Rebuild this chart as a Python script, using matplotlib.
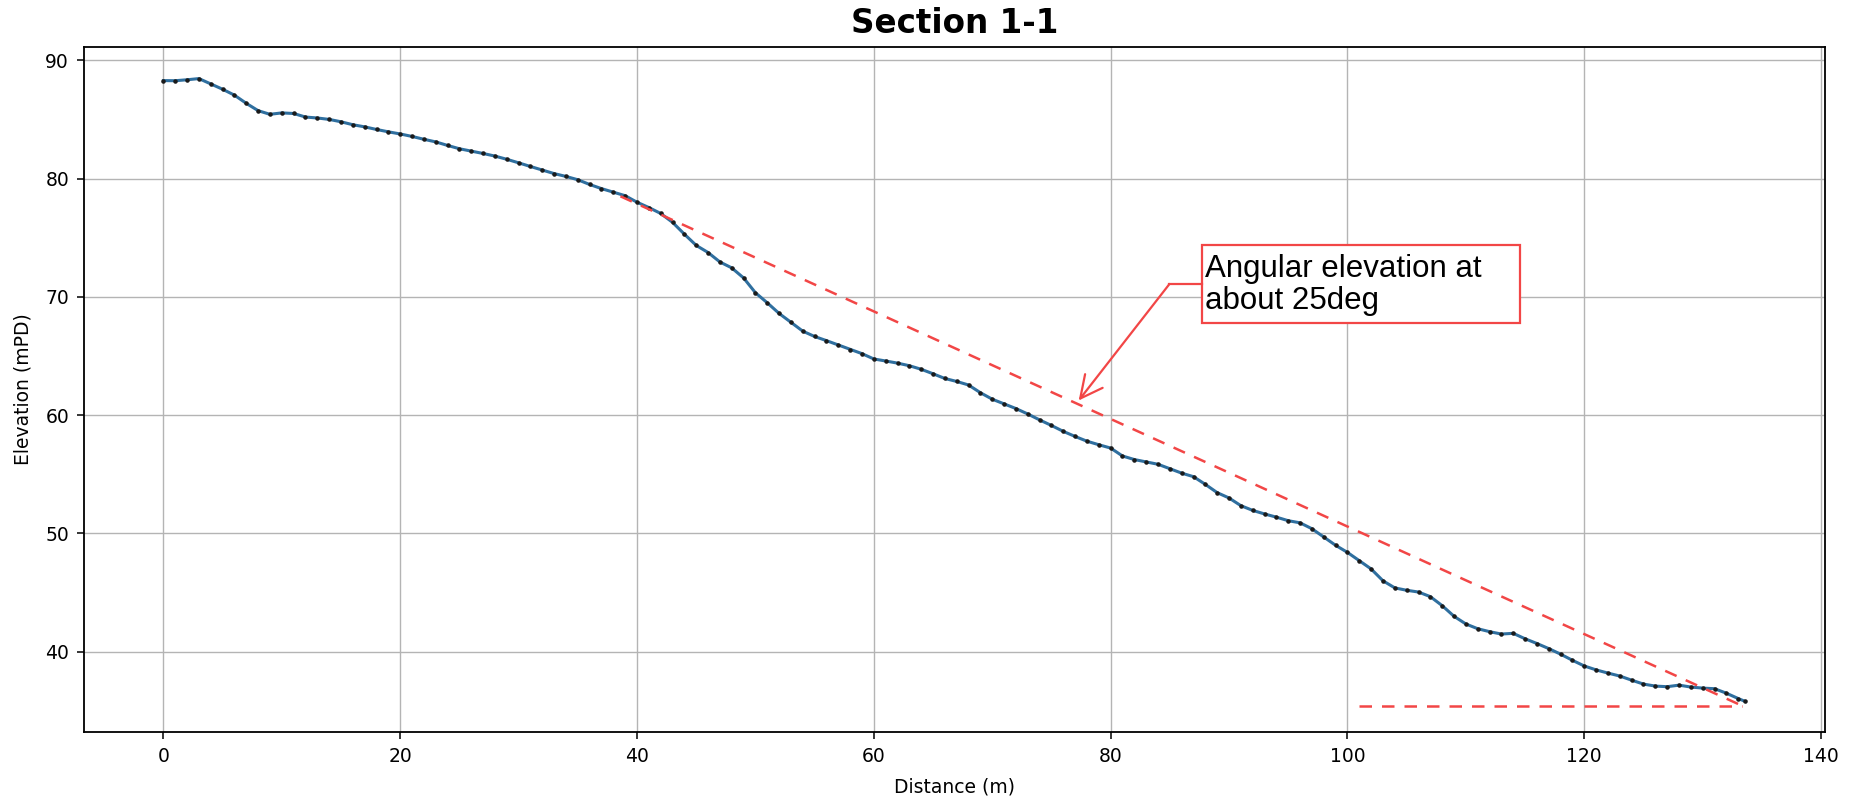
import matplotlib
matplotlib.use("Agg")
import matplotlib.pyplot as plt
from matplotlib.patches import Rectangle

# ---- data ----
distance = [0, 1, 2, 3, 4, 5, 6, 7, 8, 9, 10, 11, 12, 13, 14, 15, 16, 17, 18, 19,
            20, 21, 22, 23, 24, 25, 26, 27, 28, 29, 30, 31, 32, 33, 34, 35, 36, 37, 38, 39,
            40, 41, 42, 43, 44, 45, 46, 47, 48, 49, 50, 51, 52, 53, 54, 55, 56, 57, 58, 59,
            60, 61, 62, 63, 64, 65, 66, 67, 68, 69, 70, 71, 72, 73, 74, 75, 76, 77, 78, 79,
            80, 81, 82, 83, 84, 85, 86, 87, 88, 89, 90, 91, 92, 93, 94, 95, 96, 97, 98, 99,
            100, 101, 102, 103, 104, 105, 106, 107, 108, 109, 110, 111, 112, 113, 114, 115,
            116, 117, 118, 119, 120, 121, 122, 123, 124, 125, 126, 127, 128, 129, 130, 131,
            132, 133, 133.6]
elevation = [88.28, 88.27, 88.35, 88.45, 88.0, 87.55, 87.05, 86.36, 85.74, 85.43,
             85.55, 85.5, 85.2, 85.12, 85.0, 84.8, 84.55, 84.37, 84.15, 83.95,
             83.77, 83.56, 83.32, 83.1, 82.8, 82.52, 82.32, 82.12, 81.9, 81.63,
             81.33, 81.02, 80.72, 80.42, 80.18, 79.9, 79.5, 79.15, 78.85, 78.55,
             78.0, 77.55, 77.05, 76.3, 75.3, 74.35, 73.75, 72.95, 72.45, 71.6,
             70.35, 69.5, 68.6, 67.85, 67.1, 66.65, 66.3, 65.93, 65.55, 65.2,
             64.75, 64.58, 64.4, 64.18, 63.88, 63.5, 63.1, 62.85, 62.55, 61.9,
             61.35, 60.96, 60.56, 60.1, 59.6, 59.13, 58.63, 58.2, 57.8, 57.5,
             57.22, 56.55, 56.25, 56.05, 55.85, 55.47, 55.1, 54.8, 54.15, 53.45,
             53.0, 52.35, 51.95, 51.65, 51.38, 51.08, 50.9, 50.4, 49.7, 49.0,
             48.4, 47.7, 47.0, 46.0, 45.4, 45.2, 45.05, 44.66, 43.9, 43.0,
             42.35, 41.95, 41.7, 41.5, 41.56, 41.1, 40.7, 40.27, 39.8, 39.28,
             38.8, 38.47, 38.2, 37.95, 37.6, 37.27, 37.1, 37.05, 37.18, 37.02,
             36.93, 36.88, 36.5, 36.05, 35.8]

# reference lines (dashed red)
slope_x = [38.6, 133.3]
slope_y = [78.5, 35.45]
flat_x = [101.0, 133.3]
flat_y = [35.44, 35.44]

x_ticks = [0, 20, 40, 60, 80, 100, 120, 140]
y_ticks = [40, 50, 60, 70, 80, 90]

title = "Section 1-1"
x_label = "Distance (m)"
y_label = "Elevation (mPD)"
note = "Angular elevation at\nabout 25deg"

RED = "#f24646"

fig = plt.figure(figsize=(18.58, 8), dpi=100)
ax = fig.add_axes([84.4 / 1858, 1 - 732 / 800, (1825 - 84.4) / 1858, (732 - 47) / 800])

ax.plot(distance, elevation, color="#2f6f9f", lw=2.2, marker=".", ms=4.5,
        mfc="#1a1a1a", mec="#1a1a1a", zorder=3)

ax.plot(slope_x, slope_y, color=RED, lw=1.8, ls=(0, (5, 4)), zorder=4)
ax.plot(flat_x, flat_y, color=RED, lw=1.8, ls=(0, (5, 4)), zorder=4)

# annotation box, connector and arrow
box_x0, box_x1 = 87.7, 114.57
box_y0, box_y1 = 67.75, 74.39
knee = (84.97, 71.09)
tip = (77.3, 61.24)
ax.add_patch(Rectangle((box_x0, box_y0), box_x1 - box_x0, box_y1 - box_y0,
                       facecolor="white", edgecolor=RED, lw=1.6, zorder=5))
ax.text(box_x0 + 0.3, (box_y0 + box_y1) / 2 - 0.1, note, ha="left", va="center",
        fontsize=22.5, family="Liberation Sans", color="black",
        linespacing=1.08, zorder=6)
ax.plot([box_x0, knee[0]], [knee[1], knee[1]], color=RED, lw=1.6, zorder=5)
ax.annotate("", xy=tip, xytext=knee,
            arrowprops=dict(arrowstyle="->", color=RED, lw=1.6,
                            mutation_scale=40, shrinkA=0, shrinkB=0),
            zorder=5)

ax.set_xlim(-6.67, 140.33)
ax.set_ylim(33.22, 91.12)
ax.set_xticks(x_ticks)
ax.set_yticks(y_ticks)
ax.grid(True, color="#b4b4b4", lw=1.0)
ax.set_axisbelow(True)
ax.tick_params(labelsize=13.5, length=5, width=1.1, pad=6)
for s in ax.spines.values():
    s.set_linewidth(1.3)

ax.set_title(title, fontsize=23.5, fontweight="bold", pad=10)
ax.set_xlabel(x_label, fontsize=13.5, labelpad=8)
ax.set_ylabel(y_label, fontsize=13.5, labelpad=9)

fig.savefig("out.png", dpi=100)
